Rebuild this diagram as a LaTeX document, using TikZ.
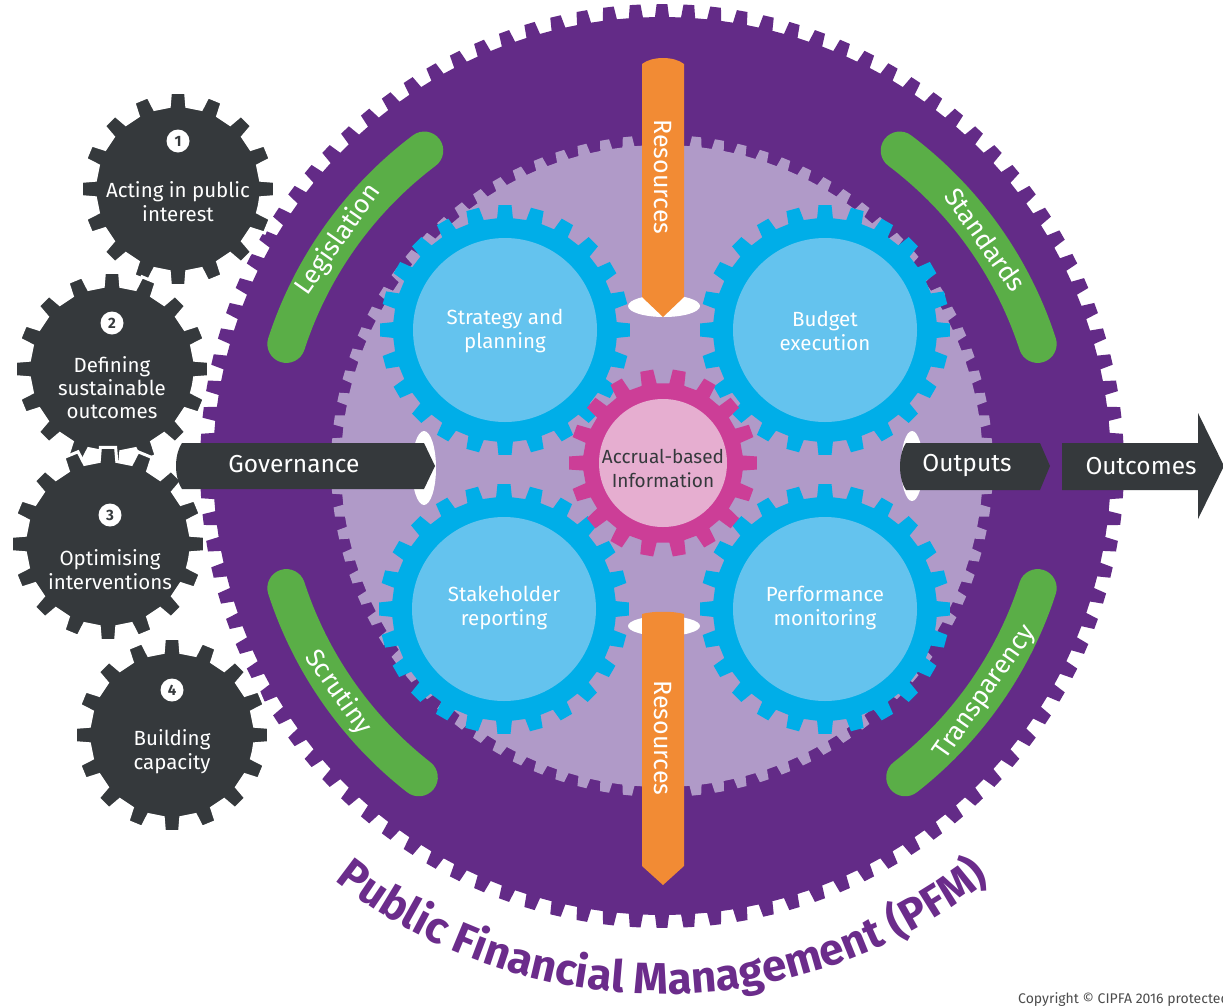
\documentclass[tikz,border=0pt]{standalone}
\usepackage{fontspec}
\setmainfont{Fira Sans}
\usetikzlibrary{decorations.text}
\definecolor{pfmpurple}{HTML}{632B87}
\definecolor{lav}{HTML}{B09AC8}
\definecolor{gblue}{HTML}{00AEE8}
\definecolor{lblue}{HTML}{64C3EE}
\definecolor{magent}{HTML}{CC3E97}
\definecolor{lpink}{HTML}{E6AED0}
\definecolor{ggreen}{HTML}{5AAE47}
\definecolor{oorange}{HTML}{F28B34}
\definecolor{dgray}{HTML}{35393C}
\definecolor{titlepurple}{HTML}{6B2C8B}
\newcommand{\gearfill}[6]{%
  \pgfmathsetmacro{\gearpitch}{360/#3}
  \begin{scope}[shift={(#1,#2)}]
    \path[#6] ({0.5*\gearpitch}:#4) foreach \k in {1,...,#3}{
      -- ({(\k-0.27)*\gearpitch}:#4) -- ({(\k-0.2)*\gearpitch}:#5)
      -- ({(\k+0.2)*\gearpitch}:#5) -- ({(\k+0.27)*\gearpitch}:#4)} -- cycle;
  \end{scope}}
\begin{document}
\begin{tikzpicture}[x=1pt,y=-1pt,
  lbl/.style={text=white, align=center, font=\fontsize{20.5}{24}\selectfont},
  darklbl/.style={text=dgray, align=center, font=\fontsize{19}{24}\selectfont},
  arctext/.style={text=white, font=\fontsize{26}{26}\selectfont},
  arrowtext/.style={text=white, font=\fontsize{24.5}{24.5}\selectfont},
  restext/.style={text=white, font=\fontsize{25}{25}\selectfont, rotate=-90},
  greenband/.style={draw=ggreen, line width=38pt, line cap=round},
  numc/.style={circle, fill=white, text=dgray, inner sep=0pt, minimum size=23pt, font=\bfseries\fontsize{15}{15}\selectfont},
  darkgear/.style={fill=dgray, draw=white, line width=3pt},
  darkarrow/.style={fill=dgray},
  orangearrow/.style={fill=oorange},
  eyehole/.style={fill=white}]
\useasboundingbox (0,0) rectangle (1223,1007);
\fill[white] (0,0) rectangle (1223,1007);
\clip (0,0) rectangle (1223,1007);
\coordinate (C) at (662,466);
% big purple gear
\gearfill{662}{466}{108}{449}{462}{fill=pfmpurple}
% green bands
\draw[greenband] ([shift={(198:395)}]C) arc[start angle=198, end angle=233, radius=395];
\draw[greenband] ([shift={(307:395)}]C) arc[start angle=307, end angle=342, radius=395];
\draw[greenband] ([shift={(128:395)}]C) arc[start angle=128, end angle=162, radius=395];
\draw[greenband] ([shift={(18:395)}]C) arc[start angle=18, end angle=52, radius=395];
\node[arctext, rotate=55] (leg) at ([shift={(215:395)}]C) {Legislation};
\node[arctext, rotate=-55] (std) at ([shift={(325:395)}]C) {Standards};
\node[arctext, rotate=-55] (scr) at ([shift={(145:395)}]C) {Scrutiny};
\node[arctext, rotate=55] (trn) at ([shift={(35:395)}]C) {Transparency};
% lavender gear
\gearfill{662}{466}{90}{321}{331}{fill=lav}
% blue gears
\gearfill{505}{330}{24}{112}{125}{fill=gblue}
\gearfill{825}{330}{24}{112}{125}{fill=gblue}
\gearfill{504}{609}{24}{112}{125}{fill=gblue}
\gearfill{825}{609}{24}{112}{125}{fill=gblue}
\fill[lblue] (505,330) circle[radius=92];
\fill[lblue] (825,330) circle[radius=92];
\fill[lblue] (504,609) circle[radius=92];
\fill[lblue] (825,609) circle[radius=92];
\node[lbl] (sp) at (505,331) {Strategy and\\planning};
\node[lbl] (be) at (825,331) {Budget\\execution};
\node[lbl] (sr) at (504,608) {Stakeholder\\reporting};
\node[lbl] (pm) at (825,608) {Performance\\monitoring};
% magenta gear
\gearfill{663}{463}{18}{80}{94}{fill=magent}
\fill[lpink] (663,463) circle[radius=64];
\node[darklbl] (abi) at (663,468) {Accrual-based\\Information};
% white eye holes
\fill[eyehole] (664,306) ellipse[x radius=36, y radius=11];
\fill[eyehole] (664,626) ellipse[x radius=36, y radius=10];
\fill[eyehole] (424,468) ellipse[x radius=12, y radius=37];
\fill[eyehole] (912,466) ellipse[x radius=11, y radius=35];
% orange arrows
\path[orangearrow] (642,64) .. controls (652,56) and (674,56) .. (684,64) -- (684,297) -- (663,317) -- (642,297) -- cycle;
\path[orangearrow] (642,614) .. controls (652,611) and (674,611) .. (684,614) -- (684,866) -- (663,885) -- (642,866) -- cycle;
\node[restext] (res1) at (663,177) {Resources};
\node[restext] (res2) at (663,738) {Resources};
% dark gears
\gearfill{178}{189}{16}{83}{97}{darkgear}
\gearfill{112}{369}{16}{83}{97}{darkgear}
\gearfill{108}{544}{16}{83}{97}{darkgear}
\gearfill{172}{735}{16}{83}{97}{darkgear}
\node[numc] (n1) at (178,141) {1};
\node[numc] (n2) at (112,323) {2};
\node[numc] (n3) at (110,515) {3};
\node[numc] (n4) at (172,690) {4};
\node[lbl] (g1) at (178,202) {Acting in public\\interest};
\node[lbl, font=\fontsize{20.5}{23}\selectfont] (g2) at (112,388) {Defining\\sustainable\\outcomes};
\node[lbl] (g3) at (110,570) {Optimising\\interventions};
\node[lbl] (g4) at (172,752) {Building\\capacity};
% governance / outputs / outcomes arrows
\path[darkarrow] (182,443) -- (424,443) -- (435,466) -- (424,489) -- (182,489) .. controls (174,477) and (174,455) .. (182,443) -- cycle;
\node[arrowtext] (gov) at (294,464) {Governance};
\path[darkarrow] (906,443) -- (1040,443) -- (1050,466) -- (1040,490) -- (906,490) .. controls (898,478) and (898,455) .. (906,443) -- cycle;
\node[arrowtext] (out) at (967,466) {Outputs};
\path[darkarrow] (1062,443) -- (1198,443) -- (1198,413) -- (1224,466) -- (1198,519) -- (1198,490) -- (1062,490) -- cycle;
\node[arrowtext] (oc) at (1141,466) {Outcomes};
% title
\path[decorate, decoration={text along path, text align=center, text color=titlepurple,
  text={|\bfseries\fontsize{44}{44}\selectfont|Public Financial Management (PFM)}}]
  ([shift={(134:528)}]C) arc[start angle=134, end angle=46, radius=528];
\node[anchor=base west, text=black!70, font=\fontsize{14}{14}\selectfont, inner sep=0pt] (copy) at (1018,1003) {Copyright © CIPFA 2016 protected};
\end{tikzpicture}
\end{document}
